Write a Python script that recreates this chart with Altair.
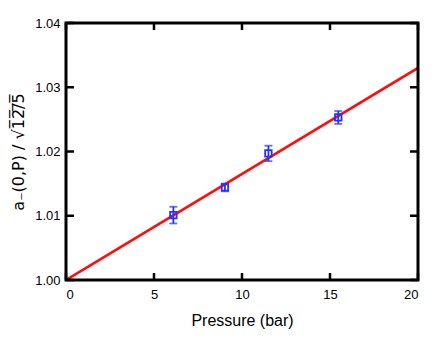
import altair as alt
import pandas as pd

# measured points
pressure = [6.1, 9.03, 11.5, 15.47]
ratio = [1.0101, 1.0144, 1.0197, 1.0253]
err = [0.0013, 0.0006, 0.0012, 0.0010]

# fit line endpoints
line_x = [0, 20]
line_y = [1.0, 1.033]

x_ticks = [0, 5, 10, 15, 20]
y_ticks = [1.00, 1.01, 1.02, 1.03, 1.04]

W, H = 352, 257
BLUE = "#2233ff"
RED = "#ff0d0d"

pts = pd.DataFrame({"p": pressure, "r": ratio,
                    "lo": [r - e for r, e in zip(ratio, err)],
                    "hi": [r + e for r, e in zip(ratio, err)]})
ln = pd.DataFrame({"p": line_x, "r": line_y})
xt = pd.DataFrame({"p": x_ticks})
yt = pd.DataFrame({"r": y_ticks})

xscale = alt.Scale(domain=[0, 20], nice=False, zero=False)
yscale = alt.Scale(domain=[1.00, 1.04], nice=False, zero=False)

xaxis = alt.Axis(values=x_ticks, format="d", tickSize=0, domain=False, grid=False,
                 labelFont="Liberation Sans", labelFontSize=13, labelColor="black",
                 labelPadding=8, title="Pressure (bar)", titleFont="Liberation Sans",
                 titleFontSize=16, titleFontWeight="normal", titleColor="black",
                 titlePadding=11)
yaxis = alt.Axis(values=y_ticks, format=".2f", tickSize=0, domain=False, grid=False,
                 labelFont="Liberation Sans", labelFontSize=13, labelColor="black",
                 labelPadding=6, title="a\u208b(0,P) / \u221a1\u03052\u0305/\u03055\u0305",
                 titleFont="DejaVu Sans", titleFontSize=16, titleFontWeight="normal",
                 titleColor="black", titlePadding=8)

line = alt.Chart(ln).mark_line(color=RED, strokeWidth=2.6, clip=True).encode(
    x=alt.X("p:Q", scale=xscale, axis=xaxis),
    y=alt.Y("r:Q", scale=yscale, axis=yaxis),
)

bars = alt.Chart(pts).mark_rule(color=BLUE, strokeWidth=1.8).encode(
    x="p:Q", y="lo:Q", y2="hi:Q")
cap_lo = alt.Chart(pts).mark_tick(color=BLUE, orient="horizontal", size=8, thickness=1.8).encode(
    x="p:Q", y="lo:Q")
cap_hi = alt.Chart(pts).mark_tick(color=BLUE, orient="horizontal", size=8, thickness=1.8).encode(
    x="p:Q", y="hi:Q")
squares = alt.Chart(pts).mark_point(shape="square", filled=False, color=BLUE,
                                    size=42, strokeWidth=1.8, opacity=1).encode(
    x="p:Q", y="r:Q")

tick_style = dict(color="black", strokeWidth=2.5)
xt_bot = alt.Chart(xt).mark_rule(**tick_style).encode(
    x="p:Q", y=alt.value(H), y2=alt.value(H - 7))
xt_top = alt.Chart(xt).mark_rule(**tick_style).encode(
    x="p:Q", y=alt.value(0), y2=alt.value(7))
yt_left = alt.Chart(yt).mark_rule(**tick_style).encode(
    y="r:Q", x=alt.value(0), x2=alt.value(8))
yt_right = alt.Chart(yt).mark_rule(**tick_style).encode(
    y="r:Q", x=alt.value(W), x2=alt.value(W - 8))

frame = alt.Chart(pd.DataFrame({"k": [0]})).mark_rect(
    fill=None, fillOpacity=0, stroke="black", strokeWidth=3).encode(
    x=alt.value(0), x2=alt.value(W), y=alt.value(0), y2=alt.value(H))

chart = alt.layer(line, xt_bot, xt_top, yt_left, yt_right, frame, bars, cap_lo, cap_hi, squares).properties(
    width=W, height=H,
    autosize=alt.AutoSizeParams(type="none"),
    padding={"left": 58, "top": 15, "right": 7, "bottom": 49},
    background="white",
).configure_view(stroke=None)

chart.save("out.html", embed_options={"renderer": "svg", "actions": False})
